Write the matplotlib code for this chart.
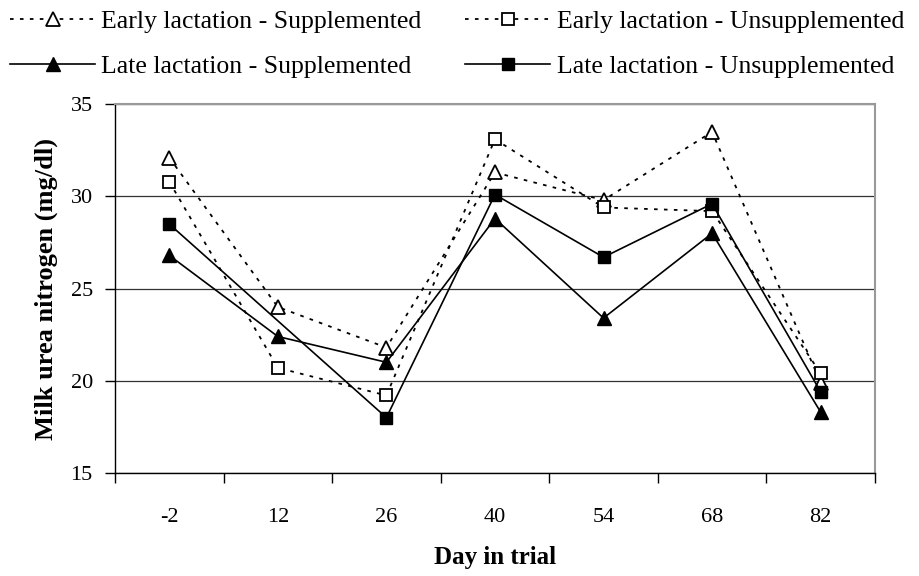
import matplotlib
matplotlib.use("Agg")
import matplotlib.pyplot as plt

days = ["-2", "12", "26", "40", "54", "68", "82"]
early_supp = [32.1, 24.0, 21.8, 31.3, 29.8, 33.5, 19.9]
early_unsupp = [30.8, 20.7, 19.2, 33.1, 29.4, 29.2, 20.4]
late_supp = [26.8, 22.4, 21.0, 28.8, 23.4, 28.0, 18.3]
late_unsupp = [28.5, None, 18.0, 30.1, 26.7, 29.6, 19.4]  # no value at day 12
labels = ["Early lactation - Supplemented", "Early lactation - Unsupplemented",
          "Late lactation - Supplemented", "Late lactation - Unsupplemented"]
yticks = [15, 20, 25, 30, 35]

plt.rcParams['font.family'] = ['Liberation Serif', 'DejaVu Serif']

fig = plt.figure(figsize=(9.2, 5.76), dpi=100)
ax = fig.add_axes([0.125, 0.179, 0.826, 0.640])


def series(vals):
    pts = [(i, v) for i, v in enumerate(vals) if v is not None]
    return [p[0] for p in pts], [p[1] for p in pts]


dot = (0, (2, 3.5))
xs, ys = series(early_supp)
h1, = ax.plot(xs, ys, linestyle=dot, color='black', lw=1.3, marker='^',
              ms=10, mfc='white', mec='black', mew=1.3, label=labels[0])
xs, ys = series(early_unsupp)
h2, = ax.plot(xs, ys, linestyle=dot, color='black', lw=1.3, marker='s',
              ms=8, mfc='white', mec='black', mew=1.3, label=labels[1])
xs, ys = series(late_supp)
h3, = ax.plot(xs, ys, linestyle='-', color='black', lw=1.2, marker='^',
              ms=10, mfc='black', mec='black', label=labels[2])
xs, ys = series(late_unsupp)
h4, = ax.plot(xs, ys, linestyle='-', color='black', lw=1.2, marker='s',
              ms=8, mfc='black', mec='black', label=labels[3])

ax.set_xlim(-0.5, len(days) - 0.5)
ax.set_ylim(15, 35)
ax.set_yticks(yticks)
ax.set_yticklabels([str(v) for v in yticks], fontsize=16)
ax.set_xticks(range(len(days)))
ax.set_xticklabels(days, fontsize=16)
ax.set_xticks([i - 0.5 for i in range(len(days) + 1)], minor=True)
ax.tick_params(axis='x', which='major', length=0, pad=25)
ax.tick_params(axis='x', which='minor', length=7, width=1, direction='out')
ax.tick_params(axis='y', which='major', length=7, width=1, direction='out', pad=9)

ax.grid(axis='y', color='#333333', lw=0.9)
ax.set_axisbelow(True)
for s in ['top', 'right']:
    ax.spines[s].set_color('#999999')
    ax.spines[s].set_linewidth(1.5)
for s in ['left', 'bottom']:
    ax.spines[s].set_color('black')
    ax.spines[s].set_linewidth(1.0)

ax.set_ylabel("Milk urea nitrogen (mg/dl)", fontsize=19, fontweight='bold', labelpad=9)
ax.set_xlabel("Day in trial", fontsize=18, fontweight='bold', labelpad=14)

fig.legend(handles=[h1, h3, h2, h4], loc='upper left', bbox_to_anchor=(0.0, 1.0),
           ncol=2, frameon=False, fontsize=18.5, handlelength=3.3, handletextpad=0.25,
           columnspacing=1.7, labelspacing=0.85, borderaxespad=0.2, borderpad=0.2)

fig.savefig("out.png", dpi=100)
